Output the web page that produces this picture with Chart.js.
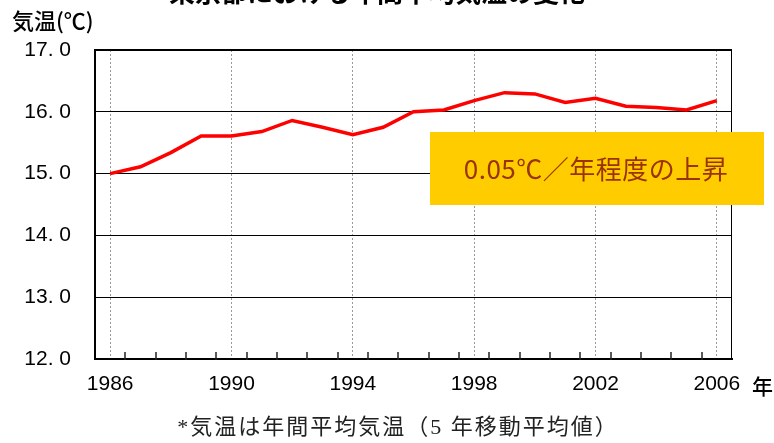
<!DOCTYPE html>
<html lang="ja">
<head>
    <meta charset="UTF-8">
    <title>東京都における年間平均気温の変化</title>
    <script src="https://cdn.jsdelivr.net/npm/chart.js"></script>
    <style>
        body { margin: 0; background: #fff; }
        #chart-container { width: 774px; height: 443px; }
    </style>
</head>
<body>
    <div id="chart-container">
        <canvas id="chart" width="774" height="443"></canvas>
    </div>
    <script>
        // data (5-year moving average)
        const years = ['1986', '1987', '1988', '1989', '1990', '1991', '1992', '1993', '1994', '1995', '1996',
                       '1997', '1998', '1999', '2000', '2001', '2002', '2003', '2004', '2005', '2006'];
        const temps = [15.00, 15.11, 15.34, 15.61, 15.61, 15.68, 15.86, 15.75, 15.63, 15.75, 16.00,
                       16.03, 16.18, 16.31, 16.29, 16.15, 16.22, 16.09, 16.07, 16.03, 16.18];
        const yTicks = [12, 13, 14, 15, 16, 17];

        const titleText = '東京都における年間平均気温の変化';
        const yTitle = '気温(℃)';
        const xUnit = '年';
        const note = '*気温は年間平均気温（5 年移動平均値）';
        const callout = '0.05℃／年程度の上昇';

        const numFont = "'Liberation Sans Narrow', 'Liberation Sans', sans-serif";
        const jpFont = "'Noto Sans CJK JP', sans-serif";

        const extras = {
            id: 'extras',
            afterDraw(chart) {
                const ctx = chart.ctx;
                const area = chart.chartArea;
                const x = chart.scales.x;
                ctx.save();

                // inward tick marks between years
                ctx.strokeStyle = '#222';
                ctx.lineWidth = 1.5;
                for (let i = 0; i < years.length - 1; i++) {
                    const px = Math.round((x.getPixelForValue(i) + x.getPixelForValue(i + 1)) / 2);
                    ctx.beginPath();
                    ctx.moveTo(px, area.bottom + 1);
                    ctx.lineTo(px, area.bottom - 7);
                    ctx.stroke();
                }

                // right frame
                ctx.strokeStyle = '#000';
                ctx.lineWidth = 1;
                ctx.beginPath();
                ctx.moveTo(area.right - 0.5, area.top);
                ctx.lineTo(area.right - 0.5, area.bottom);
                ctx.stroke();

                // callout box
                ctx.fillStyle = '#ffcc00';
                ctx.fillRect(area.right - 302, area.top + 82, 334, 73);
                ctx.fillStyle = '#993300';
                ctx.font = '26px ' + jpFont;
                ctx.letterSpacing = '0.5px';
                ctx.textAlign = 'center';
                ctx.textBaseline = 'middle';
                ctx.fillText(callout, area.right - 136, area.top + 119);
                ctx.letterSpacing = '0px';

                // title (cut off at top)
                ctx.fillStyle = '#000';
                ctx.font = 'bold 26px ' + jpFont;
                ctx.textBaseline = 'alphabetic';
                ctx.fillText(titleText, 377, 2);

                // y axis title
                ctx.font = '500 22px ' + jpFont;
                ctx.textAlign = 'left';
                ctx.textBaseline = 'middle';
                ctx.fillText(yTitle, 12, 21);

                // x unit
                ctx.font = '500 21px ' + jpFont;
                ctx.fillText(xUnit, 752, 386);

                // footnote
                ctx.fillStyle = '#222';
                ctx.font = "22px 'Liberation Serif', " + jpFont;
                ctx.letterSpacing = '2px';
                ctx.textAlign = 'center';
                ctx.fillText(note, 398, 428);

                ctx.restore();
            }
        };

        new Chart(document.getElementById('chart'), {
            type: 'line',
            data: {
                labels: years,
                datasets: [{
                    data: temps,
                    borderColor: '#ff0000',
                    borderWidth: 3.5,
                    pointRadius: 0,
                    tension: 0,
                    fill: false
                }]
            },
            options: {
                responsive: false,
                animation: false,
                devicePixelRatio: 1,
                layout: { padding: { top: 50, right: 42, left: 0, bottom: 0 } },
                plugins: {
                    legend: { display: false },
                    tooltip: { enabled: false }
                },
                scales: {
                    x: {
                        offset: true,
                        afterFit: s => { s.height = 84; },
                        grid: {
                            offset: false,
                            drawTicks: false,
                            color: c => (c.index % 4 === 0 ? '#999' : 'rgba(0,0,0,0)'),
                            lineWidth: 1
                        },
                        border: { color: '#000', width: 2, dash: [2, 2] },
                        ticks: {
                            autoSkip: false,
                            maxRotation: 0,
                            padding: 13,
                            color: '#000',
                            font: { family: numFont, size: 21 },
                            callback: (v, i) => (i % 4 === 0 ? years[i] : '')
                        }
                    },
                    y: {
                        min: yTicks[0],
                        max: yTicks[yTicks.length - 1],
                        afterFit: s => { s.width = 95; },
                        afterBuildTicks: s => { s.ticks = yTicks.map(v => ({ value: v })); },
                        grid: {
                            drawTicks: false,
                            color: '#000',
                            lineWidth: c => (c.tick && c.tick.value === 17 ? 2 : 1)
                        },
                        border: { color: '#000', width: 2 },
                        ticks: {
                            padding: 24,
                            color: '#000',
                            font: { family: numFont, size: 21 },
                            callback: v => v.toFixed(1).replace('.', '. ')
                        }
                    }
                }
            },
            plugins: [extras]
        });
    </script>
</body>
</html>
